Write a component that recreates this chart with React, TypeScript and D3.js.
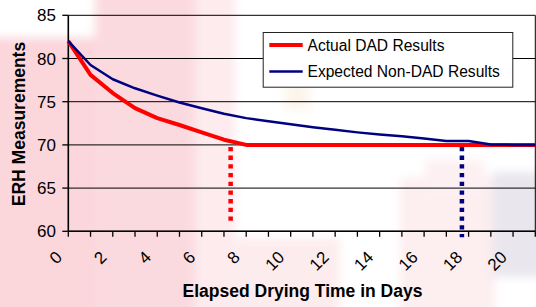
import React from "react";
import * as d3 from "d3";

const days: number[] = d3.range(0, 22);
const actualDAD: number[] = [82, 78.1, 76.0, 74.25, 73.1, 72.3, 71.45, 70.6, 70.0, 70, 70, 70, 70, 70, 70, 70, 70, 70, 70, 70, 70, 70];
const expectedNonDAD: number[] = [82, 79.25, 77.6, 76.55, 75.7, 74.9, 74.25, 73.6, 73.1, 72.75, 72.4, 72.05, 71.75, 71.45, 71.2, 71.0, 70.75, 70.45, 70.45, 70.05, 70, 70];
const yTicks: number[] = [60, 65, 70, 75, 80, 85];
const xLabelTicks: number[] = [0, 2, 4, 6, 8, 10, 12, 14, 16, 18, 20];
const seriesNames: string[] = ["Actual DAD Results", "Expected Non-DAD Results"];
const markerDays: number[] = [7.3, 17.7];
const markerBottoms: number[] = [61.1, 59.3];

const W = 536;
const H = 307;
const FONT = "Arial, 'Liberation Sans', Helvetica, sans-serif";

export default function App() {
  const x = d3.scaleLinear().domain([0, 21]).range([68.3, 535.3]);
  const y = d3.scaleLinear().domain([60, 85]).range([231.3, 15.3]);
  const line = d3
    .line<number>()
    .x((_, i) => x(days[i]))
    .y((d) => y(d));

  const x0 = x(0);
  const x1 = x(21);

  return (
    <svg
      width={W}
      height={H}
      viewBox={`0 0 ${W} ${H}`}
      style={{ position: "absolute", left: 0, top: 0, display: "block", background: "#fff" }}
    >
      <defs>
        <filter id="blur" x="-20%" y="-20%" width="140%" height="140%">
          <feGaussianBlur stdDeviation="5" />
        </filter>
      </defs>
      {/* faded background image approximation */}
      <g filter="url(#blur)">
        <rect x={-20} y={38} width={150} height={300} fill="#fbd6db" />
        <rect x={95} y={-20} width={105} height={340} fill="#fbdadf" />
        <rect x={195} y={-20} width={40} height={340} fill="#fdebee" />
        <rect x={230} y={238} width={110} height={90} fill="#fdecee" />
        <rect x={400} y={178} width={95} height={140} fill="#fdeef0" />
        <rect x={425} y={160} width={60} height={40} fill="#fdf0f2" />
        <rect x={492} y={172} width={60} height={105} fill="#e9e7ed" />
        <rect x={285} y={75} width={25} height={35} fill="#fcf5ec" />
      </g>

      {/* gridlines */}
      {yTicks.map((t) => (
        <line key={t} x1={x0} x2={x1} y1={y(t)} y2={y(t)} stroke="#000" strokeWidth={1} />
      ))}
      <line x1={x1} x2={x1} y1={y(85)} y2={y(60)} stroke="#000" strokeWidth={1} />

      {/* axes */}
      <line x1={x0} x2={x0} y1={y(85)} y2={y(60)} stroke="#000" strokeWidth={1.6} />
      <line x1={x0} x2={x1} y1={y(60)} y2={y(60)} stroke="#000" strokeWidth={1.6} />
      {yTicks.map((t) => (
        <line key={"yt" + t} x1={x0 - 6} x2={x0} y1={y(t)} y2={y(t)} stroke="#000" strokeWidth={1.3} />
      ))}
      {days.map((d) => (
        <line key={"xt" + d} x1={x(d)} x2={x(d)} y1={y(60)} y2={y(60) + 5.5} stroke="#000" strokeWidth={1.3} />
      ))}
      {yTicks.map((t) => (
        <text
          key={"yl" + t}
          x={56}
          y={y(t)}
          dy="0.36em"
          textAnchor="end"
          fontFamily={FONT}
          fontSize={17}
          fill="#000"
        >
          {t}
        </text>
      ))}
      {xLabelTicks.map((d) => (
        <text
          key={"xl" + d}
          transform={`translate(${x(d) - 9.5},${254}) rotate(-45)`}
          dy="0.36em"
          textAnchor="end"
          fontFamily={FONT}
          fontSize={17}
          fill="#000"
        >
          {d}
        </text>
      ))}

      {/* series */}
      <path d={line(actualDAD) ?? ""} fill="none" stroke="#ff0000" strokeWidth={4} strokeLinejoin="round" />
      <path d={line(expectedNonDAD) ?? ""} fill="none" stroke="#000080" strokeWidth={2.5} strokeLinejoin="round" />

      {/* dotted markers */}
      <line
        x1={x(markerDays[0])}
        x2={x(markerDays[0])}
        y1={y(70) + 2}
        y2={y(markerBottoms[0])}
        stroke="#ff0000"
        strokeWidth={4.5}
        strokeDasharray="4.3 4.4"
      />
      <line
        x1={x(markerDays[1])}
        x2={x(markerDays[1])}
        y1={y(70) + 2}
        y2={y(markerBottoms[1])}
        stroke="#000080"
        strokeWidth={4.5}
        strokeDasharray="4.3 4.4"
      />

      {/* legend */}
      <rect x={263.2} y={32.5} width={249.6} height={54.7} fill="#fff" stroke="#222" strokeWidth={1} />
      <line x1={269.3} x2={302.7} y1={45} y2={45} stroke="#ff0000" strokeWidth={4} />
      <line x1={269.3} x2={302.7} y1={71.5} y2={71.5} stroke="#000080" strokeWidth={2.5} />
      <text x={307.5} y={45} dy="0.36em" fontFamily={FONT} fontSize={15.6} fill="#000">
        {seriesNames[0]}
      </text>
      <text x={307.5} y={71.5} dy="0.36em" fontFamily={FONT} fontSize={15.6} fill="#000">
        {seriesNames[1]}
      </text>

      {/* axis titles */}
      <text
        x={302.5}
        y={297}
        textAnchor="middle"
        fontFamily={FONT}
        fontSize={17.5}
        fontWeight="bold"
        fill="#000"
      >
        Elapsed Drying Time in Days
      </text>
      <text
        transform={`translate(25,124) rotate(-90)`}
        textAnchor="middle"
        fontFamily={FONT}
        fontSize={17.5}
        fontWeight="bold"
        fill="#000"
      >
        ERH Measurements
      </text>
    </svg>
  );
}
